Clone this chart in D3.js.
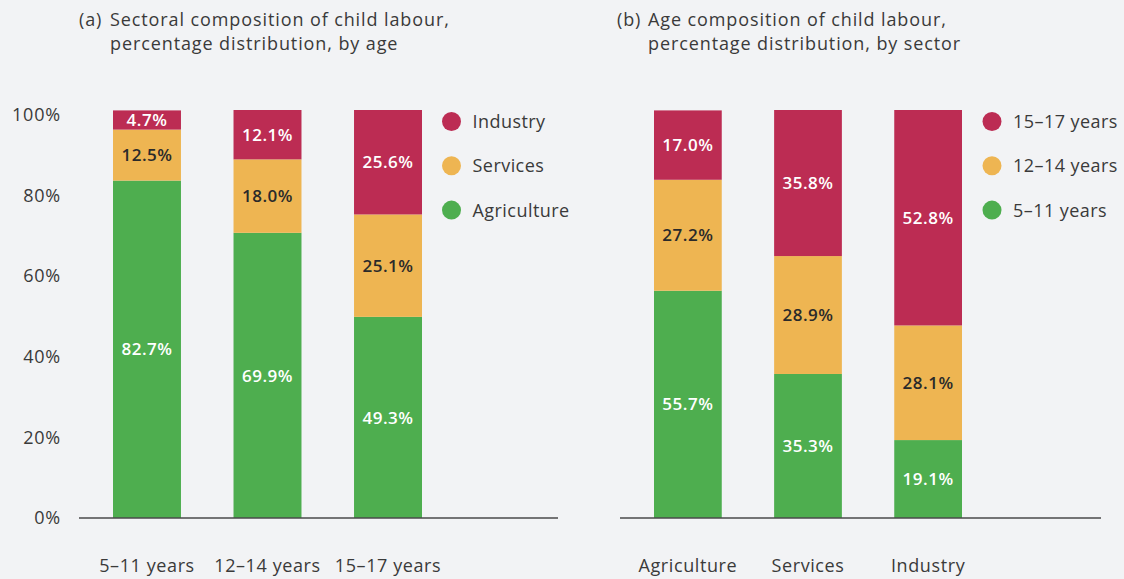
<!DOCTYPE html>
<html><head><meta charset="utf-8">
<script src="https://cdn.jsdelivr.net/npm/d3@7/dist/d3.min.js"></script>
<style>
html,body{margin:0;padding:0;background:#f2f3f5;}
svg{display:block;font-family:"Open Sans",sans-serif;}
</style></head><body>
<svg id="c" width="1124" height="579"></svg>
<script>
// Panel (a): sectoral composition by age
const ageGroups = ["5–11 years", "12–14 years", "15–17 years"];
const sectorsA = ["Agriculture", "Services", "Industry"];
const agricultureA = [82.7, 69.9, 49.3];
const servicesA = [12.5, 18.0, 25.1];
const industryA = [4.7, 12.1, 25.6];

// Panel (b): age composition by sector
const sectorCats = ["Agriculture", "Services", "Industry"];
const agesB = ["5–11 years", "12–14 years", "15–17 years"];
const age5_11B = [55.7, 35.3, 19.1];
const age12_14B = [27.2, 28.9, 28.1];
const age15_17B = [17.0, 35.8, 52.8];

const yTicks = [0, 20, 40, 60, 80, 100];
const colors = ["#4eae4f", "#eeb552", "#bc2c53"];
const labelColors = ["#ffffff", "#2a2a2a", "#ffffff"];

const svg = d3.select("#c");
const textColor = "#3a3a3a";

function panel(opts){
  const g = svg.append("g");
  const x = d3.scaleBand().domain(opts.cats).range([opts.x0, opts.x1]).paddingInner(0.436).paddingOuter(0);
  const y = d3.scaleLinear().domain([0, 100]).range([518, 110]);
  const rows = opts.cats.map((c, i) => {
    const o = {cat: c};
    opts.keys.forEach((k, j) => o[k] = opts.series[j][i]);
    return o;
  });
  const stack = d3.stack().keys(opts.keys)(rows);
  stack.forEach((layer, li) => {
    g.selectAll(null).data(layer).enter().append("rect")
      .attr("x", d => x(d.data.cat))
      .attr("width", x.bandwidth())
      .attr("y", d => y(d[1]))
      .attr("height", d => y(d[0]) - y(d[1]))
      .attr("fill", colors[li]);
    g.selectAll(null).data(layer).enter().append("text")
      .attr("x", d => x(d.data.cat) + x.bandwidth()/2)
      .attr("y", d => (y(d[0]) + y(d[1]))/2)
      .attr("dy", "0.36em")
      .attr("text-anchor", "middle")
      .attr("font-size", 17)
      .attr("font-weight", 600)
      .attr("letter-spacing", 0.5)
      .attr("fill", labelColors[li])
      .text(d => d3.format(".1f")(d[1]-d[0]) + "%");
  });
  // baseline
  g.append("line").attr("x1", opts.ax0).attr("x2", opts.ax1)
    .attr("y1", y(0)).attr("y2", y(0))
    .attr("stroke", "#4a4a4a").attr("stroke-width", 1.6);
  // category labels
  g.selectAll(null).data(opts.cats).enter().append("text")
    .attr("x", d => x(d) + x.bandwidth()/2)
    .attr("y", 572)
    .attr("text-anchor", "middle")
    .attr("font-size", 18)
    .attr("letter-spacing", 0.6)
    .attr("fill", textColor)
    .text(d => d);
  // legend (top to bottom reversed order)
  const legItems = opts.legend.slice().reverse();
  const legCols = colors.slice().reverse();
  legItems.forEach((t, i) => {
    const cy = 121.5 + i * 44.3;
    g.append("circle").attr("cx", opts.legX).attr("cy", cy).attr("r", 9.5).attr("fill", legCols[i]);
    g.append("text").attr("x", opts.legX + 21).attr("y", cy).attr("dy", "0.36em")
      .attr("font-size", 18).attr("letter-spacing", 0.45).attr("fill", textColor).text(t);
  });
  // title
  const tt = (x, y, s) => g.append("text").attr("x", x).attr("y", y).attr("font-size", 18)
    .attr("letter-spacing", 0.9).attr("fill", textColor).text(s);
  tt(opts.tx, 26, opts.tag);
  tt(opts.tx + 31, 26, opts.t1);
  tt(opts.tx + 31, 50, opts.t2);
  return {x, y};
}

panel({cats: ageGroups, keys: sectorsA, series: [agricultureA, servicesA, industryA],
  x0: 113, x1: 422, ax0: 79, ax1: 558, legX: 451.5, legend: sectorsA,
  tx: 79, tag: "(a)", t1: "Sectoral composition of child labour,", t2: "percentage distribution, by age"});
panel({cats: sectorCats, keys: agesB, series: [age5_11B, age12_14B, age15_17B],
  x0: 654, x1: 962, ax0: 620, ax1: 1101, legX: 992, legend: agesB,
  tx: 617, tag: "(b)", t1: "Age composition of child labour,", t2: "percentage distribution, by sector"});

// y axis labels for panel (a)
const yLab = d3.scaleLinear().domain([0, 100]).range([518, 115]);
const ax = svg.append("g").attr("transform", "translate(61,0)")
  .call(d3.axisLeft(yLab).tickValues(yTicks).tickSize(0).tickPadding(0).tickFormat(d => d + "%"));
ax.select(".domain").remove();
ax.selectAll("text").attr("font-size", 18).attr("letter-spacing", 0.8).attr("fill", textColor).attr("font-family", "Open Sans");
</script>
</body></html>
